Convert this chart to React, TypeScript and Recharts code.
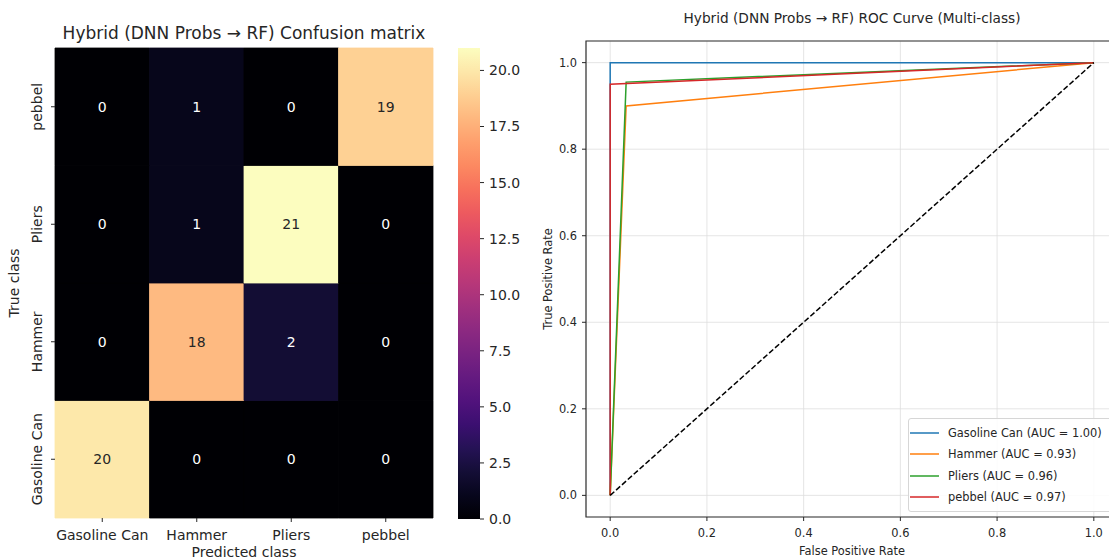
import React from "react";
import {
  ComposedChart,
  BarChart,
  Bar,
  XAxis,
  YAxis,
  ReferenceArea,
  Line,
  Scatter,
  CartesianGrid,
  Legend,
} from "recharts";

const CLASSES = ["Gasoline Can", "Hammer", "Pliers", "pebbel"];

// confusion matrix rows = true class, columns = predicted class
const CM_GASOLINE = [20, 0, 0, 0];
const CM_HAMMER = [0, 18, 2, 0];
const CM_PLIERS = [0, 1, 21, 0];
const CM_PEBBEL = [0, 1, 0, 19];
const CM_ROWS = [CM_GASOLINE, CM_HAMMER, CM_PLIERS, CM_PEBBEL];
const CM_MAX = 21;
const CELL_TICKS = [0.5, 1.5, 2.5, 3.5];
const COLORBAR_TICKS = [0, 2.5, 5, 7.5, 10, 12.5, 15, 17.5, 20];

// ROC points (fpr, tpr) per class
const ROC_GASOLINE = [
  { fpr: 0, tpr: 0 },
  { fpr: 0, tpr: 1 },
  { fpr: 1, tpr: 1 },
];
const ROC_HAMMER = [
  { fpr: 0, tpr: 0 },
  { fpr: 0.033, tpr: 0.9 },
  { fpr: 1, tpr: 1 },
];
const ROC_PLIERS = [
  { fpr: 0, tpr: 0 },
  { fpr: 0.033, tpr: 0.955 },
  { fpr: 1, tpr: 1 },
];
const ROC_PEBBEL = [
  { fpr: 0, tpr: 0 },
  { fpr: 0, tpr: 0.95 },
  { fpr: 1, tpr: 1 },
];
const ROC_CHANCE = [
  { fpr: 0, tpr: 0 },
  { fpr: 1, tpr: 1 },
];
const ROC_SERIES = [ROC_GASOLINE, ROC_HAMMER, ROC_PLIERS, ROC_PEBBEL];
const AUC = [1.0, 0.93, 0.96, 0.97];
const ROC_COLORS = ["#1f77b4", "#ff7f0e", "#2ca02c", "#d62728"];
const ROC_TICKS = [0, 0.2, 0.4, 0.6, 0.8, 1.0];

// matplotlib "magma", sampled every 0.05
const MAGMA = [
  "#000004", "#07061c", "#140e36", "#251255", "#3b0f70", "#51127c",
  "#641a80", "#782281", "#8c2981", "#a1307e", "#b73779", "#cb3e72",
  "#de4968", "#ed5a5f", "#f7705c", "#fc8961", "#fe9f6d", "#feb77e",
  "#fecf92", "#fde7a9", "#fcfdbf",
];

const FONT = "DejaVu Sans, Verdana, sans-serif";
const INK = "#262626";

// one entry per heatmap cell, centre of the cell in axis units
const CELLS = CM_ROWS.flatMap((row, r) =>
  row.map((v, c) => ({ x: c + 0.5, y: r + 0.5, col: c, row: r, v }))
);
const COLORBAR_DATA = [{ name: "counts", v: CM_MAX }];

function hexToRgb(h: string) {
  return [1, 3, 5].map((i) => parseInt(h.slice(i, i + 2), 16));
}

function magmaRgb(t: number) {
  const p = Math.max(0, Math.min(1, t)) * (MAGMA.length - 1);
  const i = Math.min(Math.floor(p), MAGMA.length - 2);
  const f = p - i;
  const a = hexToRgb(MAGMA[i]);
  const b = hexToRgb(MAGMA[i + 1]);
  return a.map((v, k) => Math.round(v + (b[k] - v) * f));
}

function magma(t: number) {
  const c = magmaRgb(t);
  return `rgb(${c[0]},${c[1]},${c[2]})`;
}

function textOn(v: number) {
  // seaborn: dark text on light cells, white on dark
  const [r, g, b] = magmaRgb(v / CM_MAX);
  const lum = (0.2126 * r + 0.7152 * g + 0.0722 * b) / 255;
  return lum > 0.408 ? INK : "#ffffff";
}

const RowTick = (props: any) => {
  const { x, y, payload } = props;
  const cx = x - 12;
  return (
    <text
      x={cx}
      y={y}
      transform={`rotate(-90, ${cx}, ${y})`}
      textAnchor="middle"
      dominantBaseline="central"
      fontSize={14}
      fontFamily={FONT}
      fill={INK}
    >
      {CLASSES[Math.floor(payload.value)]}
    </text>
  );
};

const CellText = (props: any) => {
  const { cx, cy, payload } = props;
  return (
    <text
      x={cx}
      y={cy}
      textAnchor="middle"
      dominantBaseline="central"
      fontSize={14}
      fontFamily={FONT}
      fill={textOn(payload.v)}
    >
      {payload.v}
    </text>
  );
};

function Heatmap() {
  return (
    <ComposedChart
      width={440}
      height={559}
      data={CELLS}
      margin={{ top: 48, right: 7, bottom: 0, left: 0 }}
    >
      <XAxis
        type="number"
        dataKey="x"
        domain={[0, 4]}
        ticks={CELL_TICKS}
        tickFormatter={(v: number) => CLASSES[Math.floor(v)]}
        height={41}
        axisLine={false}
        tickSize={4}
        tickMargin={8}
        tickLine={{ stroke: INK }}
        tick={{ fontSize: 14, fill: INK, fontFamily: FONT }}
        allowDataOverflow
        label={{
          value: "Predicted class",
          position: "insideBottom",
          offset: 2,
          fontSize: 14,
          fill: INK,
          fontFamily: FONT,
        }}
      />
      <YAxis
        type="number"
        dataKey="y"
        domain={[0, 4]}
        ticks={CELL_TICKS}
        width={55}
        axisLine={false}
        tickSize={4}
        tickLine={{ stroke: INK }}
        tick={<RowTick />}
        allowDataOverflow
        label={{
          value: "True class",
          angle: -90,
          position: "insideLeft",
          offset: 14,
          fontSize: 14,
          fill: INK,
          fontFamily: FONT,
          style: { textAnchor: "middle" },
        }}
      />
      {CELLS.map((d) => (
        <ReferenceArea
          key={`${d.row}-${d.col}`}
          x1={d.col}
          x2={d.col + 1}
          y1={d.row}
          y2={d.row + 1}
          fill={magma(d.v / CM_MAX)}
          fillOpacity={1}
          stroke={magma(d.v / CM_MAX)}
          strokeWidth={0.8}
        />
      ))}
      <Scatter
        data={CELLS}
        dataKey="y"
        shape={<CellText />}
        isAnimationActive={false}
      />
      <text
        x={244}
        y={39}
        textAnchor="middle"
        fontSize={17}
        fontFamily={FONT}
        fill={INK}
      >
        Hybrid (DNN Probs → RF) Confusion matrix
      </text>
    </ComposedChart>
  );
}

function ColorBar() {
  return (
    <BarChart
      width={90}
      height={559}
      data={COLORBAR_DATA}
      barCategoryGap={0}
      margin={{ top: 48, right: 0, bottom: 40, left: 8 }}
    >
      <defs>
        <linearGradient id="magmaGrad" x1="0" y1="1" x2="0" y2="0">
          {MAGMA.map((c, i) => (
            <stop key={i} offset={i / (MAGMA.length - 1)} stopColor={c} />
          ))}
        </linearGradient>
      </defs>
      <XAxis dataKey="name" hide />
      <YAxis
        type="number"
        orientation="right"
        domain={[0, CM_MAX]}
        ticks={COLORBAR_TICKS}
        tickFormatter={(v: number) => v.toFixed(1)}
        width={60}
        axisLine={false}
        tickSize={4}
        tickMargin={5}
        tickLine={{ stroke: INK }}
        tick={{ fontSize: 14, fill: INK, fontFamily: FONT }}
      />
      <Bar dataKey="v" fill="url(#magmaGrad)" isAnimationActive={false} />
    </BarChart>
  );
}

const RocLegend = (props: any) => {
  const items = (props.payload || []).filter((p: any) => p.type !== "none");
  return (
    <div
      style={{
        border: "1px solid #d6d6d6",
        borderRadius: 3,
        background: "rgba(255,255,255,0.85)",
        padding: "3px 6px 3px 1px",
        fontFamily: FONT,
        fontSize: 11.4,
        color: INK,
      }}
    >
      {items.map((p: any) => (
        <div
          key={p.value}
          style={{ display: "flex", alignItems: "center", height: 21.5 }}
        >
          <svg width={29} height={4}>
            <line x1={0} y1={2} x2={29} y2={2} stroke={p.color} strokeWidth={1.5} />
          </svg>
          <span style={{ marginLeft: 9, whiteSpace: "nowrap" }}>{p.value}</span>
        </div>
      ))}
    </div>
  );
};

function RocChart() {
  return (
    <ComposedChart
      width={580}
      height={559}
      margin={{ top: 41, right: 2, bottom: 0, left: 0 }}
    >
      <CartesianGrid stroke="#dedede" strokeWidth={0.8} />
      <XAxis
        type="number"
        dataKey="fpr"
        domain={[-0.05, 1.05]}
        ticks={ROC_TICKS}
        tickFormatter={(v: number) => v.toFixed(1)}
        height={42}
        axisLine={false}
        tickSize={4}
        tickMargin={8}
        tickLine={{ stroke: INK }}
        tick={{ fontSize: 11.4, fill: INK, fontFamily: FONT }}
        allowDataOverflow
        label={{
          value: "False Positive Rate",
          position: "insideBottom",
          offset: 4,
          fontSize: 11.4,
          fill: INK,
          fontFamily: FONT,
        }}
      />
      <YAxis
        type="number"
        domain={[-0.05, 1.05]}
        ticks={ROC_TICKS}
        tickFormatter={(v: number) => v.toFixed(1)}
        width={46}
        axisLine={false}
        tickSize={4}
        tickMargin={5}
        tickLine={{ stroke: INK }}
        tick={{ fontSize: 11.4, fill: INK, fontFamily: FONT }}
        allowDataOverflow
        label={{
          value: "True Positive Rate",
          angle: -90,
          position: "insideLeft",
          offset: 8,
          fontSize: 11.4,
          fill: INK,
          fontFamily: FONT,
          style: { textAnchor: "middle" },
        }}
      />
      <ReferenceArea
        x1={-0.05}
        x2={1.05}
        y1={-0.05}
        y2={1.05}
        fill="none"
        stroke="#333"
        strokeWidth={1.2}
      />
      {ROC_SERIES.map((d, i) => (
        <Line
          key={CLASSES[i]}
          data={d}
          dataKey="tpr"
          name={`${CLASSES[i]} (AUC = ${AUC[i].toFixed(2)})`}
          stroke={ROC_COLORS[i]}
          strokeWidth={1.5}
          dot={false}
          activeDot={false}
          type="linear"
          isAnimationActive={false}
        />
      ))}
      <Line
        data={ROC_CHANCE}
        dataKey="tpr"
        name="chance"
        stroke="#000"
        strokeWidth={1.5}
        strokeDasharray="5.5 2.4"
        dot={false}
        activeDot={false}
        legendType="none"
        isAnimationActive={false}
      />
      <Legend
        layout="vertical"
        align="center"
        verticalAlign="middle"
        content={<RocLegend />}
        wrapperStyle={{ left: 368, top: 418, width: 205 }}
      />
      <text
        x={312}
        y={23}
        textAnchor="middle"
        fontSize={13.7}
        fontFamily={FONT}
        fill={INK}
      >
        Hybrid (DNN Probs → RF) ROC Curve (Multi-class)
      </text>
    </ComposedChart>
  );
}

export default function App() {
  return (
    <div
      style={{
        position: "absolute",
        left: 0,
        top: 0,
        width: 1109,
        height: 559,
        overflow: "hidden",
        background: "#fff",
        fontFamily: FONT,
      }}
    >
      <div style={{ position: "absolute", left: 0, top: 0 }}>
        <Heatmap />
      </div>
      <div style={{ position: "absolute", left: 450, top: 0 }}>
        <ColorBar />
      </div>
      <div style={{ position: "absolute", left: 540, top: 0 }}>
        <RocChart />
      </div>
    </div>
  );
}
